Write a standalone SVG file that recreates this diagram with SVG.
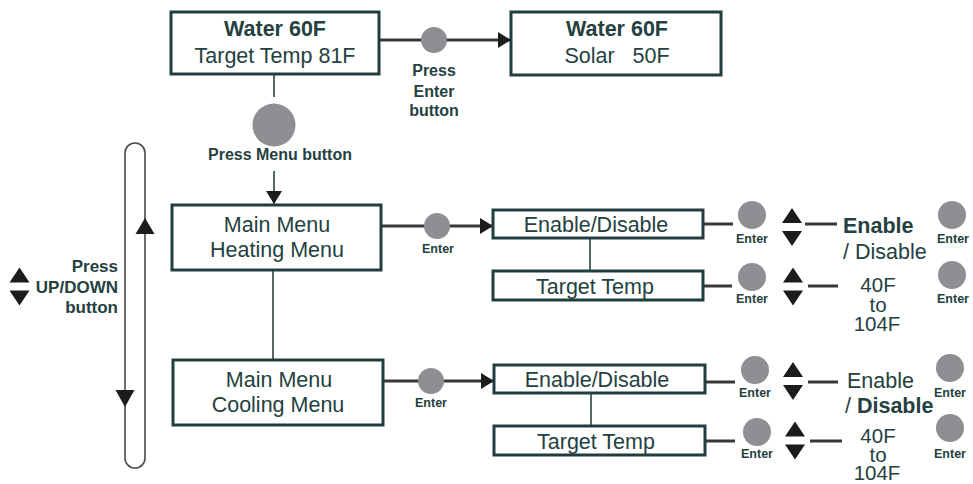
<svg xmlns="http://www.w3.org/2000/svg" xmlns:xlink="http://www.w3.org/1999/xlink" width="973" height="484" viewBox="0 0 973 484">
<style>
  .box { fill: #ffffff; stroke: #1f3e3d; stroke-width: 3; }
  .t { font-family: "Liberation Sans", Arial, sans-serif; fill: #24413f; font-size: 21.5px; }
  .s { font-size: 20.5px; }
  .b { font-weight: bold; }
  .lbl { font-family: "Liberation Sans", Arial, sans-serif; fill: #24413f; font-size: 16px; font-weight: bold; text-anchor: middle; }
  .big { font-size: 17px; }
  .ent { font-family: "Liberation Sans", Arial, sans-serif; fill: #24413f; font-size: 12.5px; font-weight: bold; text-anchor: middle; }
  .mid { text-anchor: middle; }
  .end { text-anchor: end; }
  .btn { fill: #8f8f93; }
  .main { stroke: #383834; stroke-width: 3; fill: none; }
  .thin { stroke: #2b4241; stroke-width: 1.6; fill: none; }
  .tri { fill: #1d1b1c; }
</style>
<defs>
  <marker id="ah" markerUnits="userSpaceOnUse" markerWidth="13" markerHeight="16" refX="13" refY="8" orient="auto">
    <path d="M0,0 L13,8 L0,16 z" fill="#1d1b1c"/>
  </marker>
  <g id="ud">
    <polygon class="tri" points="0,-19 10,-4 -10,-4"/>
    <polygon class="tri" points="0,19 10,4 -10,4"/>
  </g>
</defs>

<g id="connectors">
  <line class="main" x1="379" y1="40" x2="511" y2="40" marker-end="url(#ah)"/>
  <line class="thin" x1="274" y1="74" x2="274" y2="97"/>
  <line class="thin" x1="274" y1="171" x2="274" y2="204" marker-end="url(#ah)"/>
  <line class="main" x1="381" y1="226" x2="493" y2="226" marker-end="url(#ah)"/>
  <line class="thin" x1="273" y1="270" x2="273" y2="360"/>
  <line class="main" x1="383" y1="381" x2="494" y2="381" marker-end="url(#ah)"/>
  <line class="thin" x1="590" y1="238" x2="590" y2="271"/>
  <line class="thin" x1="591" y1="393" x2="591" y2="426"/>
  <line class="main" x1="703" y1="224" x2="733" y2="224"/>
  <line class="main" x1="805" y1="224" x2="837" y2="224"/>
  <line class="main" x1="703" y1="286" x2="732" y2="286"/>
  <line class="main" x1="808" y1="286" x2="838" y2="286"/>
  <line class="main" x1="705" y1="382" x2="735" y2="382"/>
  <line class="main" x1="808" y1="382" x2="838" y2="382"/>
  <line class="main" x1="705" y1="441" x2="735" y2="441"/>
  <line class="main" x1="810" y1="441" x2="842" y2="441"/>
  <rect x="125" y="143" width="20" height="325" rx="10" ry="10" fill="none" stroke="#4a4a4a" stroke-width="1.6"/>
  <polygon class="tri" points="145,218 154.5,234 135.5,234"/>
  <polygon class="tri" points="125,407 115.5,390 134.5,390"/>
</g>

<g id="node-home">
  <rect class="box" x="171" y="12" width="208" height="62"/>
  <text class="t b mid" x="275" y="36">Water 60F</text>
  <text class="t mid" x="275" y="63">Target Temp 81F</text>
</g>

<g id="node-solar">
  <rect class="box" x="511" y="12" width="210" height="63"/>
  <text class="t b mid" x="617" y="36">Water 60F</text>
  <text class="t mid" x="617" y="63" xml:space="preserve">Solar   50F</text>
</g>

<g id="btn-enter-top">
  <circle class="btn" cx="434" cy="40" r="13"/>
  <text class="lbl" x="434" y="76">Press</text>
  <text class="lbl" x="434" y="97">Enter</text>
  <text class="lbl" x="434" y="116">button</text>
</g>

<g id="btn-menu">
  <circle class="btn" cx="274" cy="125" r="21.5"/>
  <text class="lbl" x="280" y="160">Press Menu button</text>
</g>

<g id="updown-label">
  <use xlink:href="#ud" href="#ud" x="19.5" y="286.5"/>
  <text class="lbl big end" x="118" y="272">Press</text>
  <text class="lbl big end" x="118" y="293">UP/DOWN</text>
  <text class="lbl big end" x="118" y="313">button</text>
</g>

<g id="node-heating">
  <rect class="box" x="172" y="205" width="209" height="65"/>
  <text class="t mid" x="277" y="232">Main Menu</text>
  <text class="t mid" x="277" y="257">Heating Menu</text>
</g>

<g id="btn-enter-heating">
  <circle class="btn" cx="437" cy="226" r="13"/>
  <text class="ent" x="438" y="253">Enter</text>
</g>

<g id="node-heat-enable">
  <rect class="box" x="493" y="210" width="210" height="28"/>
  <text class="t mid" x="596" y="232">Enable/Disable</text>
</g>

<g id="node-heat-target">
  <rect class="box" x="493" y="271" width="210" height="29"/>
  <text class="t mid" x="595" y="294">Target Temp</text>
</g>

<g id="heat-enable-controls">
  <circle class="btn" cx="752" cy="215" r="14"/>
  <text class="ent" x="752" y="243">Enter</text>
  <use xlink:href="#ud" href="#ud" x="792" y="227"/>
  <text class="t b" x="843" y="233">Enable</text>
  <text class="t" x="843" y="259">/ Disable</text>
  <circle class="btn" cx="952" cy="215" r="14"/>
  <text class="ent" x="953" y="243">Enter</text>
</g>

<g id="heat-target-controls">
  <circle class="btn" cx="752" cy="277" r="14"/>
  <text class="ent" x="752" y="303">Enter</text>
  <use xlink:href="#ud" href="#ud" x="793" y="286.5"/>
  <text class="t s mid" x="878" y="292">40F</text>
  <text class="t s mid" x="878" y="312">to</text>
  <text class="t s mid" x="877" y="331">104F</text>
  <circle class="btn" cx="952" cy="275" r="14"/>
  <text class="ent" x="953" y="303">Enter</text>
</g>

<g id="node-cooling">
  <rect class="box" x="173" y="360" width="210" height="65"/>
  <text class="t mid" x="279" y="387">Main Menu</text>
  <text class="t mid" x="278" y="412">Cooling Menu</text>
</g>

<g id="btn-enter-cooling">
  <circle class="btn" cx="431" cy="381" r="13"/>
  <text class="ent" x="431" y="407">Enter</text>
</g>

<g id="node-cool-enable">
  <rect class="box" x="494" y="365" width="211" height="28"/>
  <text class="t mid" x="597" y="387">Enable/Disable</text>
</g>

<g id="node-cool-target">
  <rect class="box" x="494" y="426" width="211" height="29"/>
  <text class="t mid" x="596" y="449">Target Temp</text>
</g>

<g id="cool-enable-controls">
  <circle class="btn" cx="755" cy="370" r="14"/>
  <text class="ent" x="755" y="397">Enter</text>
  <use xlink:href="#ud" href="#ud" x="793" y="381"/>
  <text class="t" x="847" y="388">Enable</text>
  <text class="t" x="845" y="413">/ <tspan class="b">Disable</tspan></text>
  <circle class="btn" cx="950" cy="368" r="14"/>
  <text class="ent" x="950" y="397">Enter</text>
</g>

<g id="cool-target-controls">
  <circle class="btn" cx="757" cy="432" r="14"/>
  <text class="ent" x="757" y="458">Enter</text>
  <use xlink:href="#ud" href="#ud" x="795" y="440.5"/>
  <text class="t s mid" x="878" y="443">40F</text>
  <text class="t s mid" x="878" y="462">to</text>
  <text class="t s mid" x="877" y="480">104F</text>
  <circle class="btn" cx="950" cy="428" r="14"/>
  <text class="ent" x="950" y="458">Enter</text>
</g>
</svg>
